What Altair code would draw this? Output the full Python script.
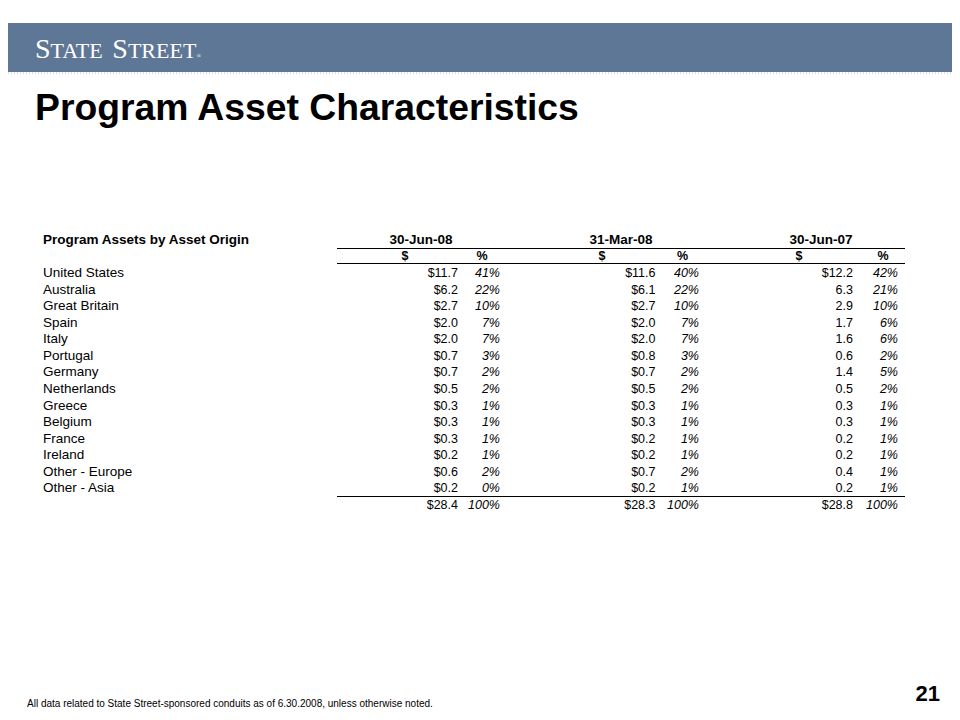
import altair as alt
import pandas as pd

# ---------------- data ----------------
countries = ["United States", "Australia", "Great Britain", "Spain", "Italy",
             "Portugal", "Germany", "Netherlands", "Greece", "Belgium",
             "France", "Ireland", "Other - Europe", "Other - Asia"]
periods = ["30-Jun-08", "31-Mar-08", "30-Jun-07"]

jun08_usd = [11.7, 6.2, 2.7, 2.0, 2.0, 0.7, 0.7, 0.5, 0.3, 0.3, 0.3, 0.2, 0.6, 0.2]
jun08_pct = [41, 22, 10, 7, 7, 3, 2, 2, 1, 1, 1, 1, 2, 0]
mar08_usd = [11.6, 6.1, 2.7, 2.0, 2.0, 0.8, 0.7, 0.5, 0.3, 0.3, 0.2, 0.2, 0.7, 0.2]
mar08_pct = [40, 22, 10, 7, 7, 3, 2, 2, 1, 1, 1, 1, 2, 1]
jun07_usd = [12.2, 6.3, 2.9, 1.7, 1.6, 0.6, 1.4, 0.5, 0.3, 0.3, 0.2, 0.2, 0.4, 0.2]
jun07_pct = [42, 21, 10, 6, 6, 2, 5, 2, 1, 1, 1, 1, 1, 1]
totals_usd = [28.4, 28.3, 28.8]
totals_pct = [100, 100, 100]

title = "Program Asset Characteristics"
table_title = "Program Assets by Asset Origin"
footnote = "All data related to State Street-sponsored conduits as of 6.30.2008, unless otherwise noted."
page_number = "21"
brand_parts = ["S", "TATE", "S", "TREET"]

# ---------------- build table ----------------
rows_domain = countries + ["Total"]
series = {
    "30-Jun-08": (jun08_usd, jun08_pct, True),
    "31-Mar-08": (mar08_usd, mar08_pct, True),
    "30-Jun-07": (jun07_usd, jun07_pct, False),
}
recs = []
for pi, p in enumerate(periods):
    usd, pct, dollar_all = series[p]
    for i, c in enumerate(countries):
        prefix = "$" if (dollar_all or i == 0) else ""
        recs.append({"row": c, "period": p,
                     "usd": f"{prefix}{usd[i]:.1f}", "pct": f"{pct[i]}%"})
    recs.append({"row": "Total", "period": p,
                 "usd": f"${totals_usd[pi]:.1f}", "pct": f"{totals_pct[pi]}%"})
table = pd.DataFrame(recs)
labels = pd.DataFrame({"row": countries})
heads = pd.DataFrame({"period": periods})

FONT = "Liberation Sans"
FS = 12.5
FS_LABEL = 13.5
W, H = 944, 704

yscale = alt.Scale(type="point", domain=rows_domain, range=[265, 497], padding=0)
one = pd.DataFrame({"a": [0]})

band = alt.Chart(one).mark_rect(color="#5F7796").encode(
    x=alt.value(0), x2=alt.value(W), y=alt.value(15), y2=alt.value(64))
dots = alt.Chart(one).mark_rule(color="#B8BFCB", strokeDash=[1, 2], strokeWidth=1).encode(
    x=alt.value(0), x2=alt.value(W), y=alt.value(65))

# small-caps logo
logo_layers = []
logo_x = [27, 42.6, 104.3, 119.9]
logo_size = [28, 22, 28, 22]
for part, lx, ls in zip(brand_parts, logo_x, logo_size):
    logo_layers.append(
        alt.Chart(one).mark_text(font="Liberation Serif", fontSize=ls, color="white",
                                 align="left", baseline="alphabetic").encode(
            x=alt.value(lx), y=alt.value(50), text=alt.value(part)))
reg = alt.Chart(one).mark_text(font="Liberation Serif", fontSize=6, color="white",
                               align="left", baseline="alphabetic").encode(
    x=alt.value(188.5), y=alt.value(50), text=alt.value("®"))

ttl = alt.Chart(one).mark_text(font=FONT, fontSize=37.3, fontWeight="bold", color="black",
                               align="left", baseline="alphabetic").encode(
    x=alt.value(27), y=alt.value(112), text=alt.value(title))
ttitle = alt.Chart(one).mark_text(font=FONT, fontSize=FS_LABEL, fontWeight="bold", color="black",
                                  align="left", baseline="middle").encode(
    x=alt.value(35), y=alt.value(232), text=alt.value(table_title))

date_heads = alt.Chart(heads).mark_text(font=FONT, fontSize=FS_LABEL, fontWeight="bold",
                                        color="black", align="center", baseline="middle").encode(
    x=alt.X("period:N", scale=alt.Scale(type="point", domain=periods, range=[413, 813], padding=0), axis=None),
    y=alt.value(232), text="period:N")
usd_heads = alt.Chart(heads).mark_text(font=FONT, fontSize=FS, fontWeight="bold",
                                       color="black", align="center", baseline="middle").encode(
    x=alt.X("period:N", scale=alt.Scale(type="point", domain=periods, range=[397, 791], padding=0), axis=None),
    y=alt.value(248), text=alt.value("$"))
pct_heads = alt.Chart(heads).mark_text(font=FONT, fontSize=FS, fontWeight="bold",
                                       color="black", align="center", baseline="middle").encode(
    x=alt.X("period:N", scale=alt.Scale(type="point", domain=periods, range=[474, 875], padding=0), axis=None),
    y=alt.value(248), text=alt.value("%"))

rule_style = dict(color="black", strokeWidth=1)
rule1 = alt.Chart(one).mark_rule(**rule_style).encode(x=alt.value(329), x2=alt.value(897), y=alt.value(240.5))
rule2 = alt.Chart(one).mark_rule(**rule_style).encode(x=alt.value(329), x2=alt.value(897), y=alt.value(255.5))
rule3 = alt.Chart(one).mark_rule(**rule_style).encode(x=alt.value(329), x2=alt.value(897), y=alt.value(488.5))

row_labels = alt.Chart(labels).mark_text(font=FONT, fontSize=FS_LABEL, color="black",
                                         align="left", baseline="middle").encode(
    x=alt.value(35), y=alt.Y("row:N", scale=yscale, axis=None), text="row:N")
usd_text = alt.Chart(table).mark_text(font=FONT, fontSize=FS, color="black",
                                      align="right", baseline="middle").encode(
    x=alt.X("period:N", scale=alt.Scale(type="point", domain=periods, range=[450, 845], padding=0), axis=None),
    y=alt.Y("row:N", scale=yscale, axis=None), text="usd:N")
pct_text = alt.Chart(table).mark_text(font=FONT, fontSize=FS, fontStyle="italic", color="black",
                                      align="right", baseline="middle").encode(
    x=alt.X("period:N", scale=alt.Scale(type="point", domain=periods, range=[492, 890], padding=0), axis=None),
    y=alt.Y("row:N", scale=yscale, axis=None), text="pct:N")

foot = alt.Chart(one).mark_text(font=FONT, fontSize=10, color="black",
                                align="left", baseline="middle").encode(
    x=alt.value(19), y=alt.value(696), text=alt.value(footnote))
pnum = alt.Chart(one).mark_text(font=FONT, fontSize=22, fontWeight="bold", color="black",
                                align="right", baseline="alphabetic").encode(
    x=alt.value(932), y=alt.value(693), text=alt.value(page_number))

chart = alt.layer(
    band, dots, *logo_layers, reg, ttl, ttitle, date_heads, usd_heads, pct_heads,
    rule1, rule2, rule3, row_labels, usd_text, pct_text, foot, pnum
).resolve_scale(x="independent", y="independent").properties(
    width=W, height=H, autosize="none", padding=0, background="white"
).configure_view(stroke=None)

chart.save("out.html", embed_options={"renderer": "svg", "actions": False})
